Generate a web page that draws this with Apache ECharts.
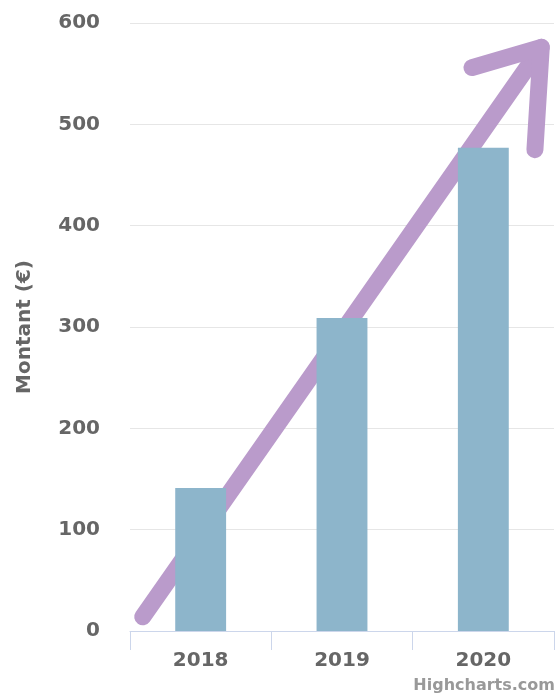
<!DOCTYPE html>
<html>
<head>
<meta charset="utf-8">
<script src="https://cdn.jsdelivr.net/npm/echarts@6/dist/echarts.min.js"></script>
<style>
html,body{margin:0;padding:0;background:#fff;}
#chart{width:555px;height:698px;}
</style>
</head>
<body>
<div id="chart"></div>
<script>
// Data
const categories = ['2018', '2019', '2020'];
const amounts = [141, 309, 477];
const yTicks = [0, 100, 200, 300, 400, 500, 600];
const yAxisTitle = 'Montant (€)';
const creditText = 'Highcharts.com';
// Decorative trend arrow, in data units (x: category span 0..3, y: amount)
const arrowShaft = [[0.09, 14], [2.91, 576]];
const arrowHead = [[2.42, 556], [2.91, 576], [2.865, 475]];

const chart = echarts.init(document.getElementById('chart'), null, {renderer: 'canvas'});
const FONT = 'DejaVu Sans';
const arrowColor = '#ba9bcb';
const arrowStyle = {color: arrowColor, width: 17, cap: 'round', join: 'round'};

chart.setOption({
  animation: false,
  backgroundColor: '#ffffff',
  grid: {left: 130, right: 1, top: 23, bottom: 67, containLabel: false},
  xAxis: [{
    type: 'category',
    data: categories,
    axisLine: {show: true, lineStyle: {color: '#ccd6eb', width: 1}},
    axisTick: {show: true, length: 19, alignWithLabel: false, lineStyle: {color: '#ccd6eb'}},
    axisLabel: {color: '#666666', fontFamily: FONT, fontWeight: 'bold', fontSize: 20, margin: 20},
    splitLine: {show: false}
  }, {
    type: 'value',
    min: 0, max: 3,
    show: false
  }],
  yAxis: {
    type: 'value',
    min: yTicks[0],
    max: yTicks[yTicks.length - 1],
    interval: yTicks[1] - yTicks[0],
    name: yAxisTitle,
    nameLocation: 'middle',
    nameGap: 95,
    nameTextStyle: {color: '#666666', fontFamily: FONT, fontWeight: 'bold', fontSize: 20},
    axisLine: {show: false},
    axisTick: {show: false},
    axisLabel: {color: '#666666', fontFamily: FONT, fontWeight: 'bold', fontSize: 20, margin: 30},
    splitLine: {show: true, lineStyle: {color: '#e6e6e6', width: 1}}
  },
  series: [
    {
      type: 'line',
      xAxisIndex: 1,
      data: arrowShaft,
      symbol: 'none',
      lineStyle: arrowStyle,
      clip: false,
      silent: true,
      z: 1
    },
    {
      type: 'line',
      xAxisIndex: 1,
      data: arrowHead,
      symbol: 'none',
      lineStyle: arrowStyle,
      clip: false,
      silent: true,
      z: 1
    },
    {
      type: 'bar',
      xAxisIndex: 0,
      data: amounts,
      barWidth: '36%',
      itemStyle: {color: '#8db5cb'},
      z: 3
    }
  ],
  graphic: [{
    type: 'text',
    right: 0,
    top: 678,
    style: {
      text: creditText,
      fill: '#999999',
      font: 'bold 16px "DejaVu Sans"'
    }
  }]
});
</script>
</body>
</html>
